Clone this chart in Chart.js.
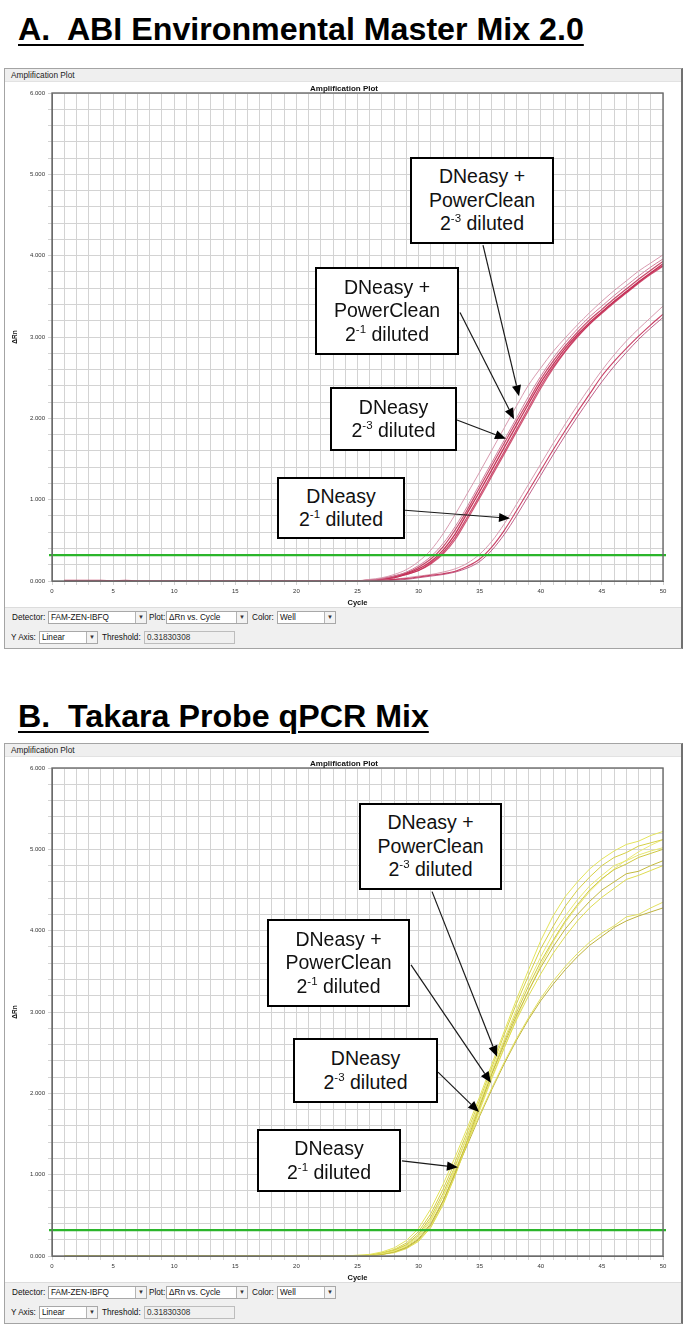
<!DOCTYPE html>
<html><head><meta charset="utf-8">
<script src="https://cdn.jsdelivr.net/npm/chart.js@4.4.0/dist/chart.umd.min.js"></script>
<style>
html,body{margin:0;padding:0;background:#fff;}
#page{position:relative;width:685px;height:1326px;overflow:hidden;font-family:"Liberation Sans",Arial,sans-serif;}
.title{position:absolute;left:18px;font-weight:bold;font-size:32.2px;line-height:32px;text-decoration:underline;text-decoration-thickness:2px;text-underline-offset:4px;white-space:nowrap;color:#000;}
.frame{position:absolute;left:4px;width:679px;height:581px;box-sizing:border-box;border:1px solid #a4a4a4;border-right:2px solid #707070;background:#fff;}
.fhead{position:absolute;left:5px;width:676px;height:13px;background:#efefef;border-bottom:1px solid #e2e2e2;box-sizing:border-box;font-size:8.3px;line-height:13px;padding-left:6px;color:#222;}
.ctlbar{position:absolute;left:5px;width:676px;height:41px;background:#f0f0f0;border-top:1px solid #dcdcdc;box-sizing:border-box;}
.lbl{position:absolute;font-size:8.2px;color:#111;line-height:13px;white-space:nowrap;}
.dd{position:absolute;height:13px;background:#fff;border:1px solid #a8a8a8;font-size:8.2px;line-height:11px;padding-left:2px;box-sizing:border-box;white-space:nowrap;color:#111;}
.dd .btn{position:absolute;right:0;top:0;width:10px;height:11px;border-left:1px solid #b4b4b4;background:#f3f3f3;font-size:6px;text-align:center;line-height:11px;color:#333;}
.tbox{position:absolute;height:13px;background:#f0f0f0;border:1px solid #bdbdbd;font-size:8.2px;line-height:11px;padding-left:2px;box-sizing:border-box;color:#333;}
canvas.cv{position:absolute;}
.ptitle{position:absolute;font-size:8px;font-weight:bold;line-height:10px;color:#111;text-align:center;width:300px;}
.ann{position:absolute;border:2px solid #000;background:#fff;box-sizing:border-box;display:flex;align-items:center;justify-content:center;}
.ann .txt{text-align:center;font-size:19.5px;line-height:23.5px;color:#111;white-space:nowrap;}
.ann sup{font-size:11.5px;line-height:0;vertical-align:0;position:relative;top:-8px;}
</style>
</head>
<body>
<div id="page">
  <div class="title" style="top:13px;">A.&nbsp; ABI Environmental Master Mix 2.0</div>
  <div class="title" style="top:700px;">B.&nbsp; Takara Probe qPCR Mix</div>
</div>
<script>
// ---------------- DATA ----------------
const cycles = [1,2,3,4,5,6,7,8,9,10,11,12,13,14,15,16,17,18,19,20,21,22,23,24,25,26,27,28,29,30,31,32,33,34,35,36,37,38,39,40,41,42,43,44,45,46,47,48,49,50];
const yTickLabels = ['0.000','1.000','2.000','3.000','4.000','5.000','6.000'];
const threshold = 0.31830308;

// Panel A: ABI Environmental Master Mix 2.0 (ΔRn per cycle)
const abiMain1 = [0,0,0,0,0,0,0,0,0,0, 0,0,0,0,0,0,0,0,0,0, 0,0,0,0,0, 0.01,0.02,0.05,0.09,0.15, 0.24,0.38,0.58,0.84,1.10, 1.37,1.64,1.91,2.18,2.44, 2.66,2.86,3.03,3.18,3.31, 3.44,3.56,3.68,3.79,3.90];
const abiMain2 = [0,0,0,0,0,0,0,0,0,0, 0,0,0,0,0,0,0,0,0,0, 0,0,0,0,0, 0.01,0.02,0.04,0.08,0.13, 0.22,0.35,0.54,0.79,1.05, 1.32,1.59,1.86,2.13,2.40, 2.63,2.83,3.01,3.16,3.30, 3.43,3.55,3.67,3.78,3.88];
const abiMain3 = [0,0,0,0,0,0,0,0,0,0, 0,0,0,0,0,0,0,0,0,0, 0,0,0,0,0, 0.01,0.03,0.06,0.10,0.17, 0.27,0.42,0.63,0.88,1.15, 1.42,1.69,1.96,2.22,2.48, 2.70,2.89,3.06,3.21,3.34, 3.47,3.59,3.71,3.82,3.93];
const abiMain4 = [0,0,0,0,0,0,0,0,0,0, 0,0,0,0,0,0,0,0,0,0, 0,0,0,0,0, 0.00,0.02,0.04,0.08,0.13, 0.21,0.33,0.51,0.76,1.02, 1.29,1.56,1.83,2.10,2.37, 2.61,2.82,3.00,3.16,3.29, 3.42,3.54,3.66,3.77,3.87];
const abiMain5 = [0,0,0,0,0,0,0,0,0,0, 0,0,0,0,0,0,0,0,0,0, 0,0,0,0,0, 0.02,0.04,0.08,0.14,0.24, 0.38,0.58,0.82,1.08,1.34, 1.61,1.88,2.15,2.41,2.62, 2.82,2.99,3.15,3.30,3.44, 3.57,3.69,3.81,3.91,4.01];
const abiMain6 = [0,0,0,0,0,0,0,0,0,0, 0,0,0,0,0,0,0,0,0,0, 0,0,0,0,0, 0.01,0.03,0.06,0.11,0.19, 0.30,0.46,0.67,0.92,1.19, 1.46,1.73,2.00,2.27,2.52, 2.74,2.93,3.10,3.25,3.38, 3.51,3.63,3.75,3.86,3.96];
const abiLow1  = [0.01,0.01,0.01,0.01,0,0.01,0,0,0,0, 0,0,0,0,0,0,0,0,0,0, 0,0,0,0,0, 0.00,0.01,0.02,0.03,0.05, 0.07,0.09,0.12,0.18,0.27, 0.42,0.62,0.86,1.11,1.36, 1.61,1.85,2.08,2.30,2.52, 2.70,2.86,3.01,3.15,3.28];
const abiLow2  = [0,0,0,0,0,0,0,0,0,0, 0,0,0,0,0,0,0,0,0,0, 0,0,0,0,0, 0.00,0.01,0.02,0.04,0.06, 0.08,0.11,0.15,0.22,0.33, 0.49,0.70,0.94,1.19,1.44, 1.69,1.93,2.16,2.38,2.59, 2.78,2.95,3.10,3.24,3.38];
const abiLow3  = [0,0,0,0,0,0,0,0,0,0, 0,0,0,0,0,0,0,0,0,0, 0,0,0,0,0, 0.00,0.00,0.01,0.02,0.04, 0.06,0.08,0.11,0.16,0.24, 0.38,0.57,0.80,1.05,1.30, 1.55,1.79,2.02,2.24,2.45, 2.64,2.81,2.97,3.11,3.24];

// Panel B: Takara Probe qPCR Mix (ΔRn per cycle)
const takara1 = [0,0,0,0,0,0,0,0,0,0, 0,0,0,0,0,0,0,0,0,0, 0,0,0,0,0.01, 0.02,0.05,0.10,0.19,0.34, 0.58,0.88,1.22,1.58,1.96, 2.36,2.76,3.15,3.52,3.88, 4.18,4.42,4.60,4.76,4.88, 4.98,5.06,5.10,5.17,5.22];
const takara2 = [0,0,0,0,0,0,0,0,0,0, 0,0,0,0,0,0,0,0,0,0, 0,0,0,0,0, 0.01,0.04,0.08,0.16,0.30, 0.52,0.82,1.16,1.53,1.92, 2.32,2.72,3.10,3.45,3.78, 4.05,4.30,4.50,4.66,4.80, 4.90,4.96,5.04,5.08,5.12];
const takara3 = [0,0,0,0,0,0,0,0,0,0, 0,0,0,0,0,0,0,0,0,0, 0,0,0,0,0, 0.01,0.03,0.06,0.12,0.23, 0.43,0.73,1.09,1.48,1.88, 2.28,2.66,3.03,3.37,3.68, 3.96,4.18,4.38,4.55,4.68, 4.80,4.86,4.93,4.98,5.02];
const takara4 = [0,0,0,0,0,0,0,0,0,0, 0,0,0,0,0,0,0,0,0,0, 0,0,0,0,0, 0.01,0.02,0.05,0.10,0.20, 0.38,0.67,1.03,1.43,1.84, 2.24,2.60,2.95,3.26,3.55, 3.80,4.02,4.20,4.36,4.50, 4.60,4.70,4.73,4.80,4.86];
const takara5 = [0,0,0,0,0,0,0,0,0,0, 0,0,0,0,0,0,0,0,0,0, 0,0,0,0,0, 0.00,0.02,0.04,0.09,0.18, 0.35,0.63,0.99,1.40,1.81, 2.20,2.56,2.90,3.20,3.47, 3.72,3.93,4.12,4.28,4.41, 4.52,4.63,4.68,4.74,4.80];
const takara6 = [0,0,0,0,0,0,0,0,0,0, 0,0,0,0,0,0,0,0,0,0, 0,0,0,0,0, 0.01,0.03,0.07,0.14,0.27, 0.48,0.77,1.11,1.48,1.86, 2.25,2.63,2.99,3.32,3.62, 3.88,4.12,4.32,4.50,4.64, 4.75,4.82,4.90,4.95,5.00];
const takara7 = [0,0,0,0,0,0,0,0,0,0, 0,0,0,0,0,0,0,0,0,0, 0,0,0,0,0, 0.01,0.03,0.07,0.13,0.25, 0.45,0.73,1.06,1.40,1.74, 2.07,2.38,2.67,2.93,3.17, 3.38,3.56,3.72,3.86,3.97, 4.06,4.17,4.20,4.28,4.35];
const takara8 = [0,0,0,0,0,0,0,0,0,0, 0,0,0,0,0,0,0,0,0,0, 0,0,0,0,0, 0.00,0.02,0.05,0.11,0.21, 0.40,0.68,1.02,1.37,1.72, 2.05,2.36,2.65,2.91,3.14, 3.34,3.52,3.68,3.82,3.93, 4.04,4.12,4.18,4.23,4.28];
const takara9 = [0,0,0,0,0,0,0,0,0,0, 0,0,0,0,0,0,0,0,0,0, 0,0,0,0,0, 0.01,0.02,0.05,0.10,0.19, 0.36,0.64,1.00,1.39,1.79, 2.18,2.55,2.92,3.26,3.58, 3.86,4.10,4.30,4.48,4.63, 4.76,4.87,4.97,5.05,5.12];

// ---------------- PRESENTATION ----------------
const FONT = '"Liberation Sans", Arial, sans-serif';
Chart.defaults.font.family = FONT;

const panels = [
  {
    top: 0,
    series: [abiLow1, abiLow2, abiLow3, abiMain5, abiMain6, abiMain2, abiMain4, abiMain3, abiMain1],
    colors: ['rgba(196,44,86,0.9)','rgba(214,150,172,0.95)','rgba(185,80,125,0.9)','rgba(214,150,172,0.95)','rgba(206,120,150,0.95)','rgba(196,44,86,0.85)','rgba(200,60,95,0.85)','rgba(190,40,80,0.85)','rgba(192,30,70,0.9)'],
    widths: [1.1,1,1,1,1,1.2,1.2,1.2,1.3],
    tension: 0.35,
    boxes: [
      {l:410,t:157,w:144,h:87,html:'DNeasy +<br>PowerClean<br>2<sup>-3</sup> diluted'},
      {l:315,t:267,w:144,h:88,html:'DNeasy +<br>PowerClean<br>2<sup>-1</sup> diluted'},
      {l:330,t:387,w:127,h:64,html:'DNeasy<br>2<sup>-3</sup> diluted'},
      {l:277,t:477,w:128,h:62,html:'DNeasy<br>2<sup>-1</sup> diluted'}
    ],
    arrows: [
      {from:[35.27,4.13], to:[38.22,2.27]},
      {from:[33.39,3.30], to:[37.81,1.99]},
      {from:[33.14,1.98], to:[37.15,1.75]},
      {from:[28.89,0.87], to:[37.48,0.77]}
    ]
  },
  {
    top: 675,
    series: [takara1, takara2, takara3, takara4, takara5, takara6, takara7, takara8, takara9],
    colors: ['rgb(228,228,90)','rgb(214,208,70)','rgb(232,232,110)','rgb(196,186,62)','rgb(222,220,80)','rgb(206,200,66)','rgb(226,224,96)','rgb(190,178,60)','rgb(236,234,120)'],
    widths: [1,1,1,1,1,1,1,1,1],
    tension: 0,
    boxes: [
      {l:359,t:803,w:143,h:87,html:'DNeasy +<br>PowerClean<br>2<sup>-3</sup> diluted'},
      {l:267,t:919,w:143,h:88,html:'DNeasy +<br>PowerClean<br>2<sup>-1</sup> diluted'},
      {l:293,t:1038,w:145,h:65,html:'DNeasy<br>2<sup>-3</sup> diluted'},
      {l:257,t:1129,w:144,h:63,html:'DNeasy<br>2<sup>-1</sup> diluted'}
    ],
    arrows: [
      {from:[31.10,4.48], to:[36.42,2.45]},
      {from:[29.38,3.58], to:[35.92,2.13]},
      {from:[31.59,2.26], to:[34.94,1.77]},
      {from:[28.64,1.17], to:[33.22,1.09]}
    ]
  }
];

const page = document.getElementById('page');
function el(tag, cls, style, html){
  const e = document.createElement(tag);
  if (cls) e.className = cls;
  if (style) e.setAttribute('style', style);
  if (html !== undefined) e.innerHTML = html;
  page.appendChild(e);
  return e;
}

function drawArrow(ctx, x1, y1, x2, y2){
  const ang = Math.atan2(y2 - y1, x2 - x1);
  const L = 11, W = 4.6;
  const bx = x2 - L * Math.cos(ang), by = y2 - L * Math.sin(ang);
  ctx.beginPath(); ctx.moveTo(x1, y1); ctx.lineTo(bx, by); ctx.stroke();
  ctx.beginPath();
  ctx.moveTo(x2, y2);
  ctx.lineTo(bx + W * Math.sin(ang), by - W * Math.cos(ang));
  ctx.lineTo(bx - W * Math.sin(ang), by + W * Math.cos(ang));
  ctx.closePath(); ctx.fill();
}

const overlay = {
  id: 'overlay',
  afterDatasetsDraw(chart, args, opts){
    const {ctx, chartArea: a, scales: {x, y}} = chart;
    ctx.save();
    const ty = y.getPixelForValue(threshold);
    ctx.strokeStyle = '#2bb52b'; ctx.lineWidth = 2.2;
    ctx.beginPath(); ctx.moveTo(a.left - 3, ty); ctx.lineTo(a.right + 3, ty); ctx.stroke();
    ctx.strokeStyle = '#6b6b6b'; ctx.lineWidth = 1.4;
    ctx.strokeRect(a.left, a.top, a.right - a.left, a.bottom - a.top);
    ctx.strokeStyle = '#1a1a1a'; ctx.fillStyle = '#000'; ctx.lineWidth = 1.2;
    (opts.arrows || []).forEach(ar => {
      drawArrow(ctx, x.getPixelForValue(ar.from[0]), y.getPixelForValue(ar.from[1]),
                     x.getPixelForValue(ar.to[0]), y.getPixelForValue(ar.to[1]));
    });
    ctx.restore();
  }
};

panels.forEach((p, idx) => {
  const T = p.top;
  el('div', 'frame', `top:${68+T}px;`);
  el('div', 'fhead', `top:${69+T}px;`, 'Amplification Plot');
  const cv = el('canvas', 'cv', `left:8px;top:${82+T}px;width:672px;height:525px;`);
  cv.width = 672; cv.height = 525;
  el('div', 'ptitle', `left:${344-150}px;top:${84+T}px;`, 'Amplification Plot');
  el('div', 'ctlbar', `top:${607+T}px;`);
  el('div', 'lbl', `left:12px;top:${611+T}px;`, 'Detector:');
  el('div', 'dd', `left:48px;top:${611+T}px;width:99px;`, 'FAM-ZEN-IBFQ<span class="btn">&#9660;</span>');
  el('div', 'lbl', `left:149px;top:${611+T}px;`, 'Plot:');
  el('div', 'dd', `left:166px;top:${611+T}px;width:82px;`, '&#916;Rn vs. Cycle<span class="btn">&#9660;</span>');
  el('div', 'lbl', `left:252px;top:${611+T}px;`, 'Color:');
  el('div', 'dd', `left:277px;top:${611+T}px;width:59px;`, 'Well<span class="btn">&#9660;</span>');
  el('div', 'lbl', `left:11px;top:${631+T}px;`, 'Y Axis:');
  el('div', 'dd', `left:39px;top:${631+T}px;width:59px;`, 'Linear<span class="btn">&#9660;</span>');
  el('div', 'lbl', `left:102px;top:${631+T}px;`, 'Threshold:');
  el('div', 'tbox', `left:144px;top:${631+T}px;width:91px;`, String(threshold));
  p.boxes.forEach(b => el('div', 'ann', `left:${b.l}px;top:${b.t}px;width:${b.w}px;height:${b.h}px;`, '<div class="txt">' + b.html + '</div>'));

  const datasets = p.series.map((s, k) => ({
    data: s.map((v, i) => ({x: cycles[i], y: v})),
    borderColor: p.colors[k],
    borderWidth: p.widths[k],
    pointRadius: 0,
    tension: p.tension,
    cubicInterpolationMode: p.tension ? 'monotone' : 'default',
    fill: false
  }));

  new Chart(cv, {
    type: 'line',
    data: {datasets},
    options: {
      responsive: false, animation: false, devicePixelRatio: 1, events: [],
      layout: {padding: {left: 0, right: 17, top: 11, bottom: 0}},
      plugins: {legend: {display: false}, tooltip: {enabled: false}, title: {display: false}, overlay: {arrows: p.arrows}},
      scales: {
        x: {
          type: 'linear', min: 0, max: 50,
          ticks: {stepSize: 1, autoSkip: false, maxRotation: 0, maxTicksLimit: 100, font: {size: 6}, color: '#333', padding: 3,
                  callback: v => (v % 5 === 0 ? String(v) : '')},
          grid: {color: '#d3d3d3', lineWidth: 1, tickLength: 4},
          border: {display: true, color: '#6b6b6b'},
          title: {display: true, text: 'Cycle', font: {size: 7.5, weight: 'bold'}, color: '#111', padding: {top: 0, bottom: 0}},
          afterFit: s => { s.height = 26; }
        },
        y: {
          min: 0, max: 6,
          ticks: {stepSize: 0.2, autoSkip: false, maxTicksLimit: 100, font: {size: 6}, color: '#333', padding: 3,
                  callback: v => { const r = Math.round(v); return Math.abs(v - r) < 1e-6 ? yTickLabels[r] : ''; }},
          grid: {color: '#d3d3d3', lineWidth: 1, tickLength: 4},
          border: {display: true, color: '#6b6b6b'},
          title: {display: true, text: '\u0394Rn', font: {size: 6.5, weight: 'bold'}, color: '#111', padding: {top: 3, bottom: 0}},
          afterFit: s => { s.width = 44; }
        }
      }
    },
    plugins: [overlay]
  });
});
</script>
</body></html>
